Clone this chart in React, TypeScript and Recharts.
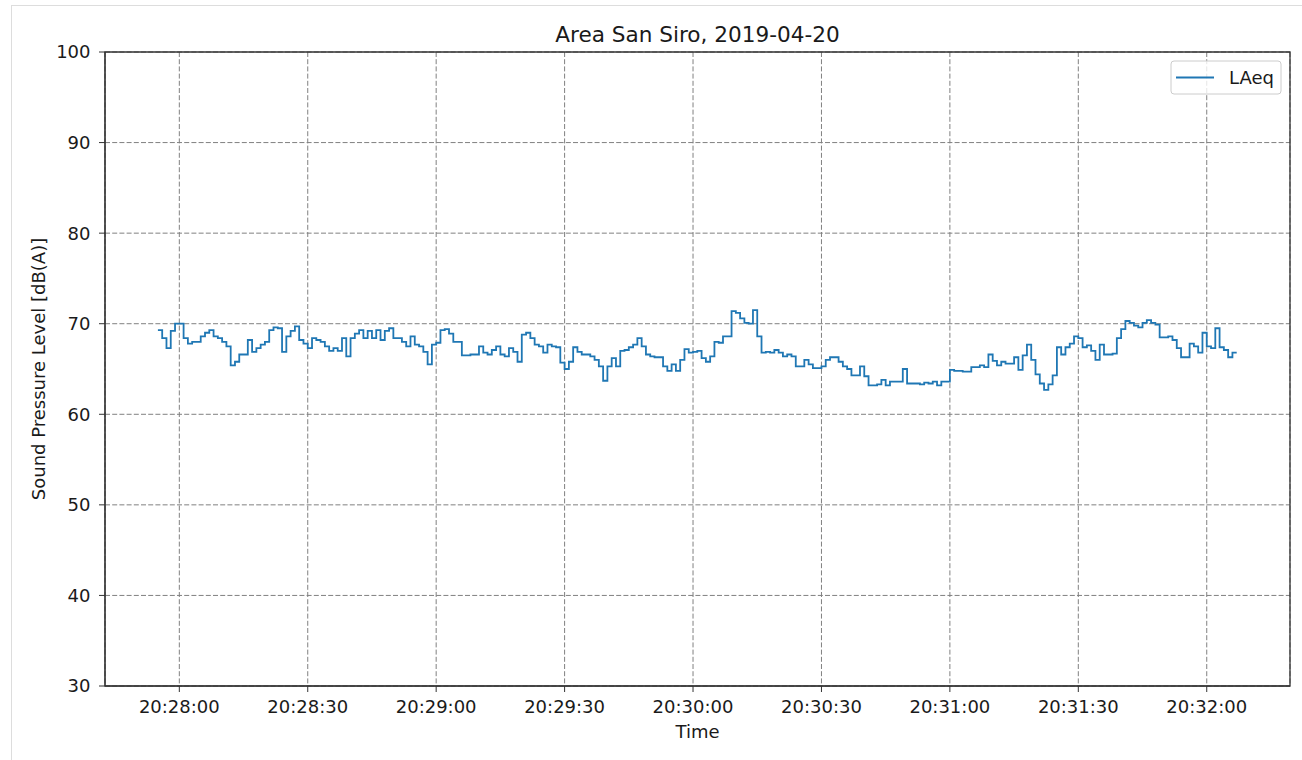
import React from 'react';
import { LineChart, Line, XAxis, YAxis, CartesianGrid, ReferenceArea } from 'recharts';

// LAeq samples, one per second, starting at 20:27:55
const LAEQ = [
  69.3, 68.4, 67.3, 69.2, 70.0, 70.0, 68.4, 67.8, 68.0, 68.0,
  68.6, 69.0, 69.3, 68.6, 68.4, 68.0, 67.5, 65.4, 65.8, 66.6,
  66.6, 68.2, 66.9, 67.3, 67.7, 68.0, 69.3, 69.6, 69.5, 66.9,
  68.6, 69.2, 69.7, 68.2, 67.8, 67.3, 68.4, 68.2, 68.0, 67.5,
  67.0, 67.3, 67.0, 68.4, 66.4, 68.4, 68.9, 69.3, 68.4, 69.2,
  68.4, 69.3, 68.2, 69.2, 69.5, 68.4, 68.4, 68.0, 67.5, 68.6,
  67.7, 67.5, 66.9, 65.5, 67.7, 67.9, 69.3, 69.4, 68.9, 68.0,
  68.0, 66.5, 66.5, 66.6, 66.6, 67.5, 66.8, 66.6, 67.1, 67.5,
  66.6, 66.4, 67.3, 66.9, 65.8, 68.8, 69.0, 68.4, 67.7, 67.5,
  66.8, 67.7, 67.5, 67.4, 65.7, 65.0, 65.8, 67.4, 66.9, 66.6,
  66.6, 66.4, 66.0, 65.3, 63.7, 65.3, 66.2, 65.3, 67.0, 67.1,
  67.4, 67.7, 68.4, 67.5, 66.6, 66.4, 66.3, 66.3, 65.3, 64.8,
  65.5, 64.8, 66.0, 67.2, 66.8, 66.9, 67.0, 66.2, 65.8, 66.4,
  68.0, 67.9, 68.6, 68.6, 71.4, 71.2, 70.6, 70.1, 70.0, 71.5,
  68.6, 66.8, 66.9, 66.8, 67.1, 66.8, 66.4, 66.6, 66.4, 65.3,
  65.3, 66.0, 65.5, 65.1, 65.1, 65.3, 66.0, 66.3, 66.3, 65.8,
  65.3, 65.0, 64.3, 64.3, 65.3, 64.2, 63.2, 63.2, 63.3, 63.8,
  63.2, 63.6, 63.6, 63.6, 65.0, 63.4, 63.4, 63.4, 63.3, 63.5,
  63.4, 63.6, 63.2, 63.6, 63.6, 64.9, 64.8, 64.8, 64.7, 64.7,
  65.2, 65.2, 65.4, 65.2, 66.6, 65.9, 65.4, 65.8, 65.6, 65.6,
  66.3, 64.9, 66.5, 67.7, 66.0, 64.4, 63.4, 62.7, 63.3, 64.3,
  67.4, 66.6, 67.4, 67.8, 68.6, 68.4, 67.4, 67.6, 67.0, 66.0,
  67.7, 66.6, 66.6, 66.7, 68.4, 69.4, 70.3, 70.1, 69.8, 69.6,
  70.1, 70.4, 70.1, 69.9, 68.5, 68.5, 68.6, 68.2, 67.3, 66.3,
  66.3, 67.8, 67.5, 66.8, 69.0, 67.5, 67.3, 69.5, 67.4, 67.1,
  66.3, 66.8, 66.8,
];

// seconds relative to 20:28:00
const START_SECONDS = -5;
const SAMPLE_SECONDS = 1;

const X_TICKS = [0, 30, 60, 90, 120, 150, 180, 210, 240];
const X_TICK_LABELS = [
  '20:28:00', '20:28:30', '20:29:00', '20:29:30', '20:30:00',
  '20:30:30', '20:31:00', '20:31:30', '20:32:00',
];
const Y_TICKS = [30, 40, 50, 60, 70, 80, 90, 100];

const rows = LAEQ.map((v, i) => ({ t: START_SECONDS + i * SAMPLE_SECONDS, laeq: v }));

const W = 1302;
const H = 760;
const INK = '#1a1a1a';
const SPINE = '#333333';

export default function App() {
  const fmt = (v: number) => {
    const i = X_TICKS.indexOf(v);
    return i >= 0 ? X_TICK_LABELS[i] : '';
  };

  return (
    <div
      style={{
        position: 'absolute',
        left: 0,
        top: 0,
        width: W,
        height: H,
        overflow: 'hidden',
        background: '#fff',
        fontFamily: '"DejaVu Sans", sans-serif',
      }}
    >
      {/* notebook output frame */}
      <div
        style={{
          position: 'absolute',
          left: 11,
          top: 5,
          width: 1400,
          height: 900,
          borderLeft: '1px solid #dddddd',
          borderTop: '1px solid #dddddd',
        }}
      />
      <div style={{ position: 'absolute', left: 0, top: 0 }}>
        <LineChart width={W} height={H} data={rows} margin={{ top: 52, right: 12, bottom: 44, left: 45 }}>
          <CartesianGrid stroke="#808080" strokeDasharray="5 2.2" strokeWidth={1} />
          <XAxis
            dataKey="t"
            type="number"
            domain={[-17.36, 259.45]}
            allowDataOverflow
            ticks={X_TICKS}
            tickFormatter={fmt}
            height={30}
            tickSize={6}
            tickMargin={8}
            stroke={SPINE}
            tick={{ fill: INK, fontSize: 18 }}
          />
          <YAxis
            type="number"
            domain={[30, 100]}
            allowDataOverflow
            ticks={Y_TICKS}
            width={60}
            tickSize={6}
            tickMargin={8.5}
            stroke={SPINE}
            tick={{ fill: INK, fontSize: 18 }}
          />
          <ReferenceArea y1={30} y2={100} fill="none" stroke={SPINE} strokeWidth={1.3} ifOverflow="visible" />
          <Line
            type="stepAfter"
            dataKey="laeq"
            stroke="#1f77b4"
            strokeWidth={1.8}
            dot={false}
            isAnimationActive={false}
          />
        </LineChart>
      </div>
      <svg width={W} height={H} style={{ position: 'absolute', left: 0, top: 0, pointerEvents: 'none' }}>
        <text x={697.5} y={41.5} textAnchor="middle" fontSize={21.6} fill={INK}>
          Area San Siro, 2019-04-20
        </text>
        <text x={697.5} y={738} textAnchor="middle" fontSize={18} fill={INK}>
          Time
        </text>
        <text
          x={45}
          y={369}
          textAnchor="middle"
          fontSize={18}
          fill={INK}
          transform="rotate(-90 45 369)"
        >
          Sound Pressure Level [dB(A)]
        </text>
        {/* legend */}
        <rect x={1171} y={61} width={110} height={33} rx={3} fill="#fff" fillOpacity={0.8} stroke="#cccccc" />
        <line x1={1176} y1={77.5} x2={1214} y2={77.5} stroke="#1f77b4" strokeWidth={1.8} />
        <text x={1229} y={84} fontSize={18} fill={INK}>
          LAeq
        </text>
      </svg>
    </div>
  );
}
